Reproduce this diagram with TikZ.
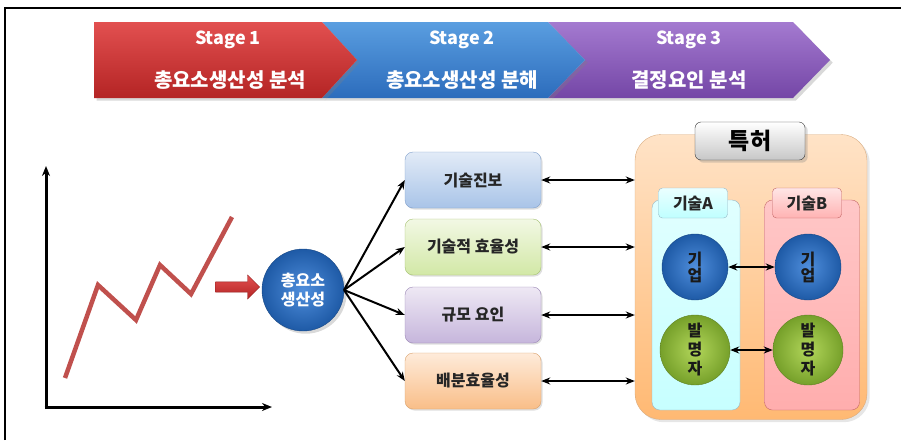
\documentclass[tikz,border=0pt]{standalone}
\usepackage{fontspec}
\setmainfont{Noto Sans CJK KR}
\usetikzlibrary{arrows.meta,shadows,shapes.arrows}
\definecolor{redT}{HTML}{E25050}
\definecolor{redB}{HTML}{B42424}
\definecolor{bluT}{HTML}{5A9EE0}
\definecolor{bluB}{HTML}{2C6CBC}
\definecolor{purT}{HTML}{A47AD0}
\definecolor{purB}{HTML}{7446A6}
\definecolor{lineRed}{HTML}{C0504D}
\definecolor{ballIn}{HTML}{4F8EDC}
\definecolor{ballOut}{HTML}{1E5AA6}
\definecolor{grnIn}{HTML}{B2D65A}
\definecolor{grnOut}{HTML}{76A02A}
\definecolor{b1T}{HTML}{E2EBF7}\definecolor{b1B}{HTML}{A9C4E8}\definecolor{b1D}{HTML}{7F9FCB}
\definecolor{b2T}{HTML}{F2F8E4}\definecolor{b2B}{HTML}{D2E8A6}\definecolor{b2D}{HTML}{A4C070}
\definecolor{b3T}{HTML}{EEE8F4}\definecolor{b3B}{HTML}{C6B6DC}\definecolor{b3D}{HTML}{9A86B4}
\definecolor{b4T}{HTML}{FEEBDA}\definecolor{b4B}{HTML}{F9BE88}\definecolor{b4D}{HTML}{D9A06A}
\tikzset{
  stagetxt/.style={text=white, font=\bfseries\fontsize{18}{20}\selectfont},
  stagekr/.style={text=white, font=\bfseries\fontsize{20}{22}\selectfont},
  factor/.style n args={3}{draw=#3, rounded corners=8pt, minimum width=136pt, minimum height=56pt,
    top color=#1, bottom color=#2, text=black!85, font=\bfseries\fontsize{16}{18}\selectfont,
    drop shadow={opacity=0.25, shadow xshift=1.5pt, shadow yshift=-1.5pt}},
  conn/.style={-{Stealth[length=9pt,width=7pt]}, line width=2pt},
  dconn/.style={{Stealth[length=9pt,width=7pt]}-{Stealth[length=9pt,width=7pt]}, line width=2pt},
  bigball/.style={circle, minimum size=#1, inner sep=0pt, align=center},
  firm/.style={bigball=66pt, shading=radial, inner color=ballIn, outer color=ballOut, draw=ballOut!80!black,
    text=black!90, font=\bfseries\fontsize{16}{16}\selectfont},
  inv/.style={bigball=70pt, shading=radial, inner color=grnIn, outer color=grnOut, draw=grnOut!80!black,
    text=black!90, font=\bfseries\fontsize{16}{19}\selectfont},
  tag/.style={rounded corners=4pt, minimum width=69pt, minimum height=30pt, text=black!85,
    font=\bfseries\fontsize{16}{18}\selectfont}
}
\begin{document}
\begin{tikzpicture}[x=1pt,y=-1pt]
\useasboundingbox (0,0) rectangle (901,440);
% frame
\draw[line width=1.6pt] (5,440) -- (5,8) -- (901,8);

% stage chevrons
\shade[top color=purT, bottom color=purB, drop shadow={opacity=0.3}] (548,22) -- (793,22) -- (830,60) -- (793,98) -- (548,98) -- (585,60) -- cycle;
\shade[top color=bluT, bottom color=bluB, drop shadow={opacity=0.3}] (322,22) -- (548,22) -- (585,60) -- (548,98) -- (322,98) -- (357,60) -- cycle;
\shade[top color=redT, bottom color=redB, drop shadow={opacity=0.3}] (94,22) -- (322,22) -- (357,60) -- (322,98) -- (94,98) -- cycle;
\node[stagetxt] (s1) at (228,40) {Stage 1};
\node[stagekr] (k1) at (230,80) {총요소생산성 분석};
\node[stagetxt] (s2) at (462,40) {Stage 2};
\node[stagekr] (k2) at (462,80) {총요소생산성 분해};
\node[stagetxt] (s3) at (689,40) {Stage 3};
\node[stagekr] (k3) at (689,80) {결정요인 분석};

% axes
\coordinate (ytop) at (46,166);
\coordinate (xend) at (272,407);
\draw[line width=3pt, -{Stealth[length=10pt,width=8pt]}] (46,409) -- (ytop);
\draw[line width=3pt, -{Stealth[length=10pt,width=8pt]}] (44.5,407) -- (xend);
% zigzag
\draw[lineRed, line width=4.5pt, line join=miter] (65,378) -- (98,285) -- (136,320) -- (160,265) -- (191,294) -- (232,217);

% red block arrow
\node[single arrow, minimum height=44pt, minimum width=24pt, single arrow head extend=3pt, inner sep=2pt,
  top color=redT, bottom color=redB, draw=redB!80!black] (ra) at (235,287) {};

% TFP ball
\node[bigball=82pt, shading=radial, inner color=ballIn, outer color=ballOut, draw=ballOut!80!black,
  text=white, font=\bfseries\fontsize{16}{19}\selectfont, drop shadow={opacity=0.3}] (tfp) at (303,290) {총요소\\생산성};

% factor boxes
\node[factor={b1T}{b1B}{b1D}] (f1) at (473,180) {기술진보};
\node[factor={b2T}{b2B}{b2D}] (f2) at (473,247) {기술적 효율성};
\node[factor={b3T}{b3B}{b3D}] (f3) at (473,315) {규모 요인};
\node[factor={b4T}{b4B}{b4D}] (f4) at (473,381) {배분효율성};

\coordinate (tfpR) at (344,290);
\draw[conn] (tfpR) -- (f1.west);
\draw[conn] (tfpR) -- (f2.west);
\draw[conn] (tfpR) -- (f3.west);
\draw[conn] (tfpR) -- (f4.west);

% patent container
\node[draw=orange!70!black!50, rounded corners=26pt, minimum width=232pt, minimum height=285pt,
  top color=orange!22, bottom color=orange!55, drop shadow={opacity=0.2}] (pat) at (751,277) {};
\node[draw=black!80, rounded corners=6pt, minimum width=110pt, minimum height=38pt,
  top color=white, bottom color=black!22, font=\bfseries\fontsize{23}{25}\selectfont, drop shadow={opacity=0.3}] (pt) at (750,141) {특허};

\coordinate (p1) at (pat.west |- f1.east);
\coordinate (p2) at (pat.west |- f2.east);
\coordinate (p3) at (pat.west |- f3.east);
\coordinate (p4) at (pat.west |- f4.east);
\draw[dconn] (f1.east) -- (p1);
\draw[dconn] (f2.east) -- (p2);
\draw[dconn] (f3.east) -- (p3);
\draw[dconn] (f4.east) -- (p4);

% technology groups
\node[draw=cyan!50!black!50, rounded corners=8pt, minimum width=88pt, minimum height=210pt,
  top color=cyan!12, bottom color=cyan!22] (ga) at (696,305) {};
\node[draw=red!60!black!60, rounded corners=8pt, minimum width=95pt, minimum height=210pt,
  top color=red!22, bottom color=red!32] (gb) at (812,305) {};
\node[tag, draw=cyan!50!black!50, top color=cyan!8, bottom color=cyan!25] (ta) at (693,203) {기술A};
\node[tag, draw=red!60!black!60, top color=red!10, bottom color=red!30] (tb) at (807,203) {기술B};

\node[firm] (ea) at (695,267) {기\\업};
\node[firm] (eb) at (808,267) {기\\업};
\node[inv] (ia) at (695,350) {발\\명\\자};
\node[inv] (ib) at (808,350) {발\\명\\자};
\draw[dconn, line width=2.6pt] (ea) -- (eb);
\draw[dconn, line width=2.6pt] (ia) -- (ib);
\end{tikzpicture}
\end{document}
